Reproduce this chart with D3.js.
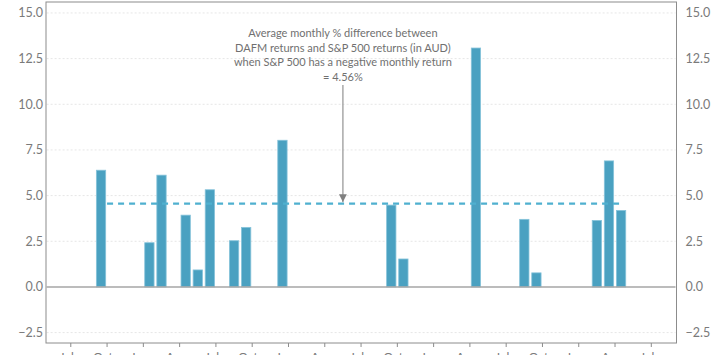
<!DOCTYPE html>
<html><head><meta charset="utf-8">
<script src="https://cdn.jsdelivr.net/npm/d3@7"></script>
<style>body{margin:0;background:#fff;overflow:hidden}svg{display:block}</style>
</head><body><svg id="c" width="717" height="355"></svg>
<script>
// Months Jun-2016 .. Sep-2020 (52 months)
const monthNames = ["Jan","Feb","Mar","Apr","May","Jun","Jul","Aug","Sep","Oct","Nov","Dec"];
const startYear = 2016, startMonth = 5; // June
const months = d3.range(52).map(i => {
  const m = (startMonth + i) % 12, y = startYear + Math.floor((startMonth + i) / 12);
  return monthNames[m] + "-" + String(y).slice(2);
});
// Monthly % difference (only months where S&P 500 return was negative)
const barMonths = [4, 8, 9, 11, 12, 13, 15, 16, 19, 28, 29, 35, 39, 40, 45, 46, 47];
const barValues = [6.39, 2.42, 6.12, 3.93, 0.93, 5.32, 2.53, 3.26, 8.03, 4.48, 1.53, 13.08, 3.70, 0.77, 3.64, 6.90, 4.19];
const average = 4.56;
const avgFrom = 5, avgTo = 47, arrowMonth = 24;
const yTicks = [-2.5, 0, 2.5, 5, 7.5, 10, 12.5, 15];
const annotation = ["Average monthly % difference between", "DAFM returns and S&P 500 returns (in AUD)", "when S&P 500 has a negative monthly return", "= 4.56%"];

const L = 46.6, R = 675.5, T = 2, B = 343;
const svg = d3.select("#c");
const x = d3.scaleBand().domain(months).range([L, R]).paddingInner(0.23).paddingOuter(0.115);
const xs = d3.scaleBand().domain(months).range([L, R]);
const y = d3.scaleLinear().domain([-3.07, 15.6]).range([B, T]);
const font = "Lato, 'Open Sans', sans-serif";

// gridlines
svg.append("g").selectAll("line").data(yTicks.filter(v => v !== 0)).join("line")
  .attr("x1", L).attr("x2", R).attr("y1", d => y(d)).attr("y2", d => y(d))
  .attr("stroke", "#e6e6e6").attr("stroke-width", 1).attr("stroke-dasharray", "2,2");

// bars
svg.append("g").selectAll("rect").data(barMonths.map((m, i) => ({m, v: barValues[i]}))).join("rect")
  .attr("x", d => x(months[d.m])).attr("width", x.bandwidth())
  .attr("y", d => y(d.v)).attr("height", d => y(0) - y(d.v))
  .attr("fill", "#4aa1c1").attr("stroke", "#86c3da").attr("stroke-width", 0.8);

// zero line
svg.append("line").attr("x1", L).attr("x2", R).attr("y1", y(0)).attr("y2", y(0))
  .attr("stroke", "#a6a6a6").attr("stroke-width", 1.6);

// average dashed line
svg.append("line")
  .attr("x1", xs(months[avgFrom])).attr("x2", xs(months[avgTo]) + xs.bandwidth() / 2)
  .attr("y1", y(average)).attr("y2", y(average))
  .attr("stroke", "#4fb0cf").attr("stroke-width", 2.2).attr("stroke-dasharray", "6,5");

// frame
svg.append("rect").attr("x", 46).attr("y", T).attr("width", R + 1 - 46).attr("height", B - T)
  .attr("fill", "none").attr("stroke", "#8c8c8c").attr("stroke-width", 1);

// y axes
const yl = svg.append("g").attr("transform", `translate(${46},0)`).call(d3.axisLeft(y).tickValues(yTicks).tickFormat(d3.format(".1f")).tickSize(0).tickPadding(3));
const yr = svg.append("g").attr("transform", `translate(${R + 1},0)`).call(d3.axisRight(y).tickValues(yTicks).tickFormat(d3.format(".1f")).tickSize(0).tickPadding(9));
[yl, yr].forEach(g => {
  g.select(".domain").remove();
  g.selectAll("text").attr("fill", "#7a7a7a").attr("font-size", 12.5).attr("font-family", font);
});

// x axis ticks and labels (cut off at the bottom edge, as in the source)
const tickIdx = d3.range(2, 52, 3);
svg.append("g").selectAll("line").data(tickIdx).join("line")
  .attr("x1", d => xs(months[d])).attr("x2", d => xs(months[d]))
  .attr("y1", B).attr("y2", B + 4).attr("stroke", "#8c8c8c");
const labIdx = d3.range(1, 52, 3);
svg.append("g").selectAll("text").data(labIdx).join("text")
  .attr("x", d => xs(months[d]) + xs.bandwidth() / 2 + 2).attr("y", 361)
  .attr("text-anchor", "middle").attr("fill", "#7a7a7a").attr("font-size", 12).attr("font-family", font)
  .text(d => months[d].slice(0, 3));

// annotation
const ax = xs(months[arrowMonth]) + xs.bandwidth() / 2;
svg.append("g").selectAll("text").data(annotation).join("text")
  .attr("x", ax).attr("y", (d, i) => 37 + i * 14.5)
  .attr("text-anchor", "middle").attr("fill", "#707070").attr("font-size", 11).attr("font-family", font)
  .text(d => d);
svg.append("defs").append("marker").attr("id", "ah").attr("viewBox", "0 0 10 10")
  .attr("refX", 10).attr("refY", 5).attr("markerWidth", 6).attr("markerHeight", 6).attr("orient", "auto")
  .append("path").attr("d", "M0,0L10,5L0,10Z").attr("fill", "#808080");
svg.append("line").attr("x1", ax).attr("x2", ax).attr("y1", 85).attr("y2", y(average) - 1.5)
  .attr("stroke", "#9a9a9a").attr("stroke-width", 1.3).attr("marker-end", "url(#ah)");
</script></body></html>
